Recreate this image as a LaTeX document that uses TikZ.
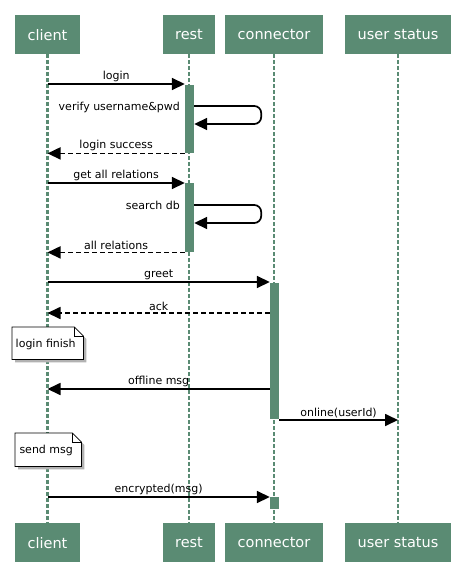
\documentclass[tikz,border=0pt]{standalone}
\usepackage{fontspec}
\setmainfont{DejaVu Sans}
\usetikzlibrary{arrows.meta,calc}
\definecolor{pgreen}{RGB}{90,139,115}
\begin{document}
\begin{tikzpicture}[x=1pt,y=-1pt,
  part/.style={fill=pgreen, text=white, font=\fontsize{14.5}{16}\selectfont, inner sep=0pt, minimum height=39pt, anchor=north},
  life/.style={pgreen, line width=2.6pt, dash pattern=on 3.5pt off 2.5pt},
  act/.style={fill=pgreen, inner sep=0pt, minimum width=9pt, anchor=north},
  msg/.style={line width=1.7pt, -{Triangle[length=13pt,width=12pt]}},
  ret/.style={msg, dash pattern=on 5pt off 3pt},
  lbl/.style={font=\fontsize{11}{13}\selectfont, inner sep=1.5pt, above},
  slbl/.style={font=\fontsize{11}{13}\selectfont, inner sep=0pt, anchor=east},
  notebox/.style={inner sep=0pt, anchor=north west},
  notetext/.style={font=\fontsize{11}{13}\selectfont, inner sep=0pt},
  noteline/.style={draw=black, line width=0.8pt, fill=white},
  noteshadow/.style={fill=black!30, draw=none}
]
\useasboundingbox[fill=white] (0,0) rectangle (466,586);

% participants
\node[part, minimum width=65pt]  (cT) at (47.5,15) {client};
\node[part, minimum width=52pt]  (rT) at (189,15)  {rest};
\node[part, minimum width=98pt]  (kT) at (274,15)  {connector};
\node[part, minimum width=106pt] (uT) at (398,15)  {user status};
\node[part, minimum width=65pt]  (cB) at (47.5,523) {client};
\node[part, minimum width=52pt]  (rB) at (189,523)  {rest};
\node[part, minimum width=98pt]  (kB) at (274,523)  {connector};
\node[part, minimum width=106pt] (uB) at (398,523)  {user status};

% lifelines
\draw[life] (cT.south) -- (cB.north);
\draw[life] (rT.south) -- (rB.north);
\draw[life] (kT.south) -- (kB.north);
\draw[life] (uT.south) -- (uB.north);

% activations
\node[act, minimum height=68pt]  (a1) at (189.5,85)  {};
\node[act, minimum height=69pt]  (a2) at (189.5,183) {};
\node[act, minimum height=136pt] (a3) at (274.5,283) {};
\node[act, minimum height=12pt]  (a4) at (274.5,497) {};

% messages
\draw[msg] (cT.south |- 0,84) -- node[lbl] {login} (a1.west |- 0,84);
\draw[msg, rounded corners=7pt] (a1.east |- 0,106) -- ++(67,0) -- ++(0,18) -- (a1.east |- 0,124);
\node[slbl] (l2) at (180,107) {verify username\&pwd};
\draw[ret] (a1.south west) -- node[lbl] {login success} (cT.south |- a1.south);

\draw[msg] (cT.south |- 0,183) -- node[lbl] {get all relations} (a2.west |- 0,183);
\draw[msg, rounded corners=7pt] (a2.east |- 0,205) -- ++(67,0) -- ++(0,18) -- (a2.east |- 0,223);
\node[slbl] (l5) at (180,205) {search db};
\draw[ret] (a2.south west) -- node[lbl] {all relations} (cT.south |- a2.south);

\draw[msg] (cT.south |- 0,282) -- node[lbl] {greet} (a3.west |- 0,282);
\draw[ret] (a3.west |- 0,313) -- node[lbl] {ack} (cT.south |- 0,313);

% note login finish
\node[notebox, minimum width=71pt, minimum height=32pt] (n1) at (12,327) {};
\fill[noteshadow] ($(n1.north west)+(3,3)$) -- ($(n1.north east)+(-6,3)$) -- ($(n1.north east)+(3,12)$) -- ($(n1.south east)+(3,3)$) -- ($(n1.south west)+(3,3)$) -- cycle;
\draw[noteline] (n1.north west) -- ($(n1.north east)+(-9,0)$) -- ($(n1.north east)+(0,9)$) -- (n1.south east) -- (n1.south west) -- cycle;
\draw[line width=0.8pt] ($(n1.north east)+(-9,0)$) -- ($(n1.north east)+(-9,9)$) -- ($(n1.north east)+(0,9)$);
\node[notetext] (t1) at ($(n1.center)+(-2,1)$) {login finish};

\draw[msg] (a3.west |- 0,389) -- node[lbl] {offline msg} (cT.south |- 0,389);
\draw[msg] (a3.east |- 0,420) -- node[lbl] {online(userId)} (uT.south |- 0,420);

% note send msg
\node[notebox, minimum width=66pt, minimum height=33pt] (n2) at (15,433) {};
\fill[noteshadow] ($(n2.north west)+(3,3)$) -- ($(n2.north east)+(-6,3)$) -- ($(n2.north east)+(3,12)$) -- ($(n2.south east)+(3,3)$) -- ($(n2.south west)+(3,3)$) -- cycle;
\draw[noteline] (n2.north west) -- ($(n2.north east)+(-9,0)$) -- ($(n2.north east)+(0,9)$) -- (n2.south east) -- (n2.south west) -- cycle;
\draw[line width=0.8pt] ($(n2.north east)+(-9,0)$) -- ($(n2.north east)+(-9,9)$) -- ($(n2.north east)+(0,9)$);
\node[notetext] (t2) at ($(n2.center)+(-2,1)$) {send msg};

\draw[msg] (cT.south |- 0,497) -- node[lbl] {encrypted(msg)} (a4.west |- 0,497);
\end{tikzpicture}
\end{document}
